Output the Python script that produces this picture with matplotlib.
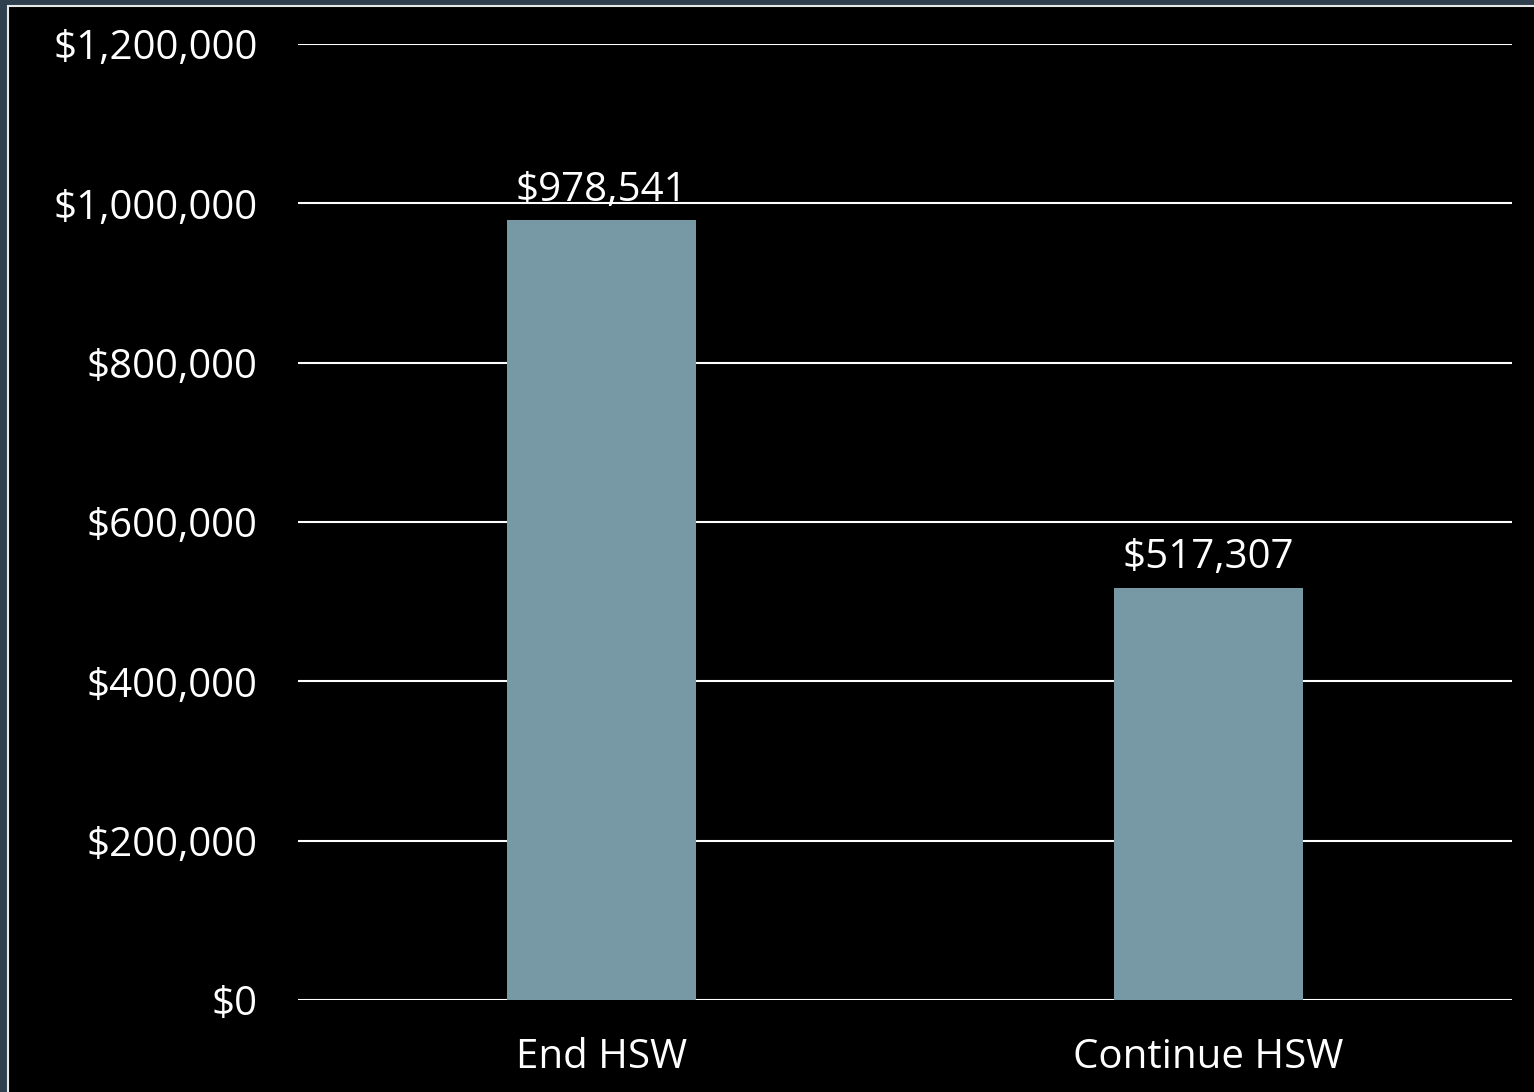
import matplotlib.pyplot as plt
from matplotlib.patches import Rectangle
from matplotlib.ticker import FuncFormatter

categories = ['End HSW', 'Continue HSW']
values = [978541, 517307]
ticks = [0, 200000, 400000, 600000, 800000, 1000000, 1200000]

plt.rcParams['font.family'] = ['Open Sans', 'DejaVu Sans']

W, H = 1534, 1092
fig = plt.figure(figsize=(W / 100, H / 100), dpi=100, facecolor='#2f3f4d')

# black slide panel with thin light edge at left and top
fig.patches.append(Rectangle((8 / W, -0.01), 1.0, (H - 6) / H + 0.01,
                             transform=fig.transFigure, facecolor='black',
                             edgecolor='#e8e8e8', linewidth=1.5, zorder=-1))

ax = fig.add_axes([298 / W, 92 / H, 1214 / W, 956 / H])
ax.set_facecolor('none')

x = range(len(categories))
bars = ax.bar(x, values, width=0.313, color='#7799a5', zorder=3)
for b, v in zip(bars, values):
    ax.text(b.get_x() + b.get_width() / 2, v + 12000, '${:,}'.format(v),
            ha='center', va='bottom', color='white', fontsize=29, zorder=4)

ax.set_xlim(-0.5, 1.5)
ax.set_ylim(0, 1200000)
ax.set_yticks(ticks)
ax.yaxis.set_major_formatter(FuncFormatter(lambda v, p: '${:,.0f}'.format(v)))
ax.set_xticks(list(x))
ax.set_xticklabels(categories)
ax.grid(axis='y', color='white', linewidth=1.5, zorder=1)
ax.tick_params(colors='white', labelsize=29, length=0)
ax.tick_params(axis='y', pad=29)
ax.tick_params(axis='x', pad=27)
for s in ax.spines.values():
    s.set_visible(False)

fig.savefig('out.png', dpi=100, facecolor=fig.get_facecolor())
